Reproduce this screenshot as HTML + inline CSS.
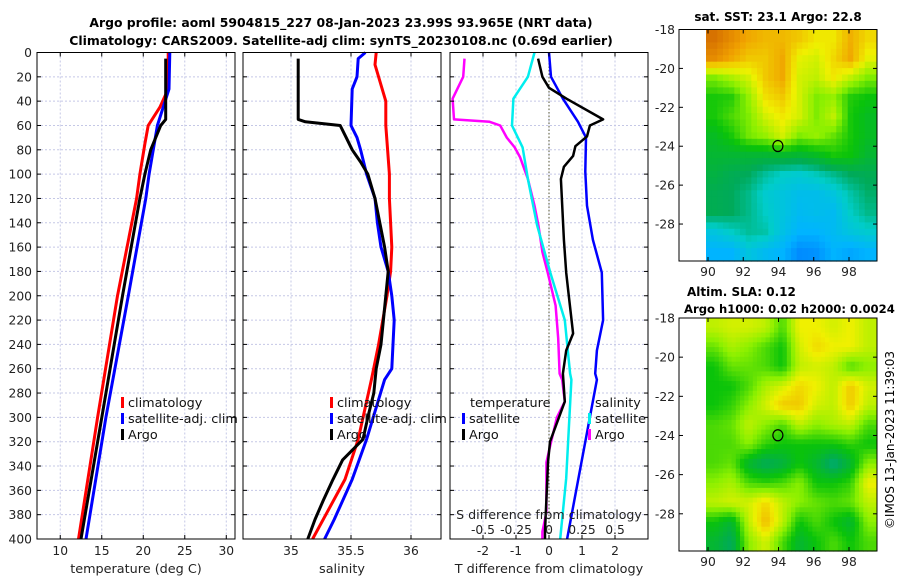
<!DOCTYPE html>
<html><head><meta charset="utf-8">
<style>
html,body{margin:0;padding:0;background:#fff;}
svg{display:block;font-family:"DejaVu Sans","Liberation Sans",sans-serif;}
</style></head>
<body>
<svg id="fig" width="900" height="580" viewBox="0 0 900 580">
<text x="341" y="27" text-anchor="middle" font-size="12.4" font-weight="bold">Argo profile: aoml 5904815_227 08-Jan-2023 23.99S 93.965E (NRT data)</text>
<text x="341" y="45" text-anchor="middle" font-size="12.4" font-weight="bold">Climatology: CARS2009. Satellite-adj clim: synTS_20230108.nc (0.69d earlier)</text>
<text x="778" y="21" text-anchor="middle" font-size="12" font-weight="bold">sat. SST: 23.1 Argo: 22.8</text>
<text x="687" y="296" font-size="12" font-weight="bold">Altim. SLA: 0.12</text>
<text x="684" y="313" font-size="11.6" font-weight="bold">Argo h1000: 0.02 h2000: 0.0024</text>
<text transform="translate(894,440) rotate(-90)" text-anchor="middle" font-size="12">©IMOS 13-Jan-2023 11:39:03</text>
<g id="layer"></g>
</svg>
<script>
// ---------- data ----------
const depthTicks=[0,20,40,60,80,100,120,140,160,180,200,220,240,260,280,300,320,340,360,380,400];
const tempTicks=[10,15,20,25,30];
const salTicks=[35,35.5,36];
const salTickLabels=["35","35.5","36"];
const tdiffTicks=[-2,-1,0,1,2];
const sdiffTicks=[-0.5,-0.25,0,0.25,0.5];
const sdiffTickLabels=["-0.5","-0.25","0","0.25","0.5"];

const climTempDepth=[0,30,45,60,75,100,120,200,300,400];
const climTempVal=[23.0,23.0,22.0,20.6,20.2,19.6,19.2,16.9,14.5,12.2];
const satTempDepth=[0,30,45,60,100,120,200,300,400];
const satTempVal=[23.2,23.1,22.4,21.7,20.7,20.3,18.2,15.5,13.1];
const argoTempDepth=[5,55,60,80,100,120,200,300,400];
const argoTempVal=[22.7,22.7,22.1,20.9,20.2,19.6,17.5,15.0,12.5];

const climSalDepth=[0,10,40,60,100,120,160,180,200,240,269,318,351,400];
const climSalVal=[35.71,35.7,35.79,35.79,35.82,35.82,35.84,35.83,35.8,35.73,35.67,35.56,35.45,35.18];
const satSalDepth=[0,5,20,30,60,70,80,100,120,140,160,180,200,220,260,269,318,351,384,400];
const satSalVal=[35.62,35.56,35.55,35.51,35.5,35.55,35.58,35.63,35.7,35.72,35.75,35.81,35.84,35.86,35.84,35.78,35.63,35.51,35.36,35.28];
const argoSalDepth=[5,55,57,60,70,80,90,100,120,140,160,180,200,220,240,260,280,300,318,335,351,368,384,400];
const argoSalVal=[35.06,35.06,35.12,35.41,35.46,35.51,35.58,35.64,35.7,35.74,35.78,35.81,35.79,35.77,35.75,35.71,35.69,35.64,35.6,35.43,35.35,35.27,35.2,35.14];

const argoTdiffDepth=[5,20,29,38,55,60,69,77,85,94,104,154,181,200,231,245,264,287,320,337,394,400];
const argoTdiffVal=[-0.33,-0.2,0,0.53,1.64,1.24,1.15,0.8,0.73,0.45,0.36,0.45,0.52,0.6,0.73,0.52,0.42,0.48,0.03,-0.03,-0.12,-0.12];
const satTdiffDepth=[0,20,38,57,70,98,126,154,181,220,245,264,269,400];
const satTdiffVal=[0,0.06,0.42,0.88,1.12,1.1,1.15,1.33,1.6,1.64,1.45,1.4,1.45,0.55];
const argoSdiffDepth=[5,20,38,55,57,60,70,78,86,104,126,142,164,181,208,235,264,269,287,300,323,337,378,394,400];
const argoSdiffVal=[-0.64,-0.65,-0.73,-0.72,-0.45,-0.37,-0.32,-0.26,-0.22,-0.16,-0.11,-0.08,-0.05,-0.01,0.05,0.07,0.08,0.1,0.12,0.06,0.01,-0.02,-0.02,-0.05,-0.05];
const satSdiffDepth=[0,20,38,60,78,104,142,181,220,264,269,350,400];
const satSdiffVal=[-0.11,-0.16,-0.27,-0.28,-0.2,-0.16,-0.09,0.01,0.12,0.16,0.17,0.13,0.085];

const mapLonTicks=[90,92,94,96,98];
const mapLatTicks=[-18,-20,-22,-24,-26,-28];
const sstGrid=[
[0.92,0.88,0.84,0.82,0.82,0.8,0.76,0.76,0.83,0.78],
[0.88,0.84,0.8,0.8,0.84,0.74,0.72,0.78,0.84,0.74],
[0.64,0.68,0.72,0.8,0.84,0.72,0.7,0.76,0.7,0.64],
[0.56,0.57,0.66,0.77,0.8,0.72,0.64,0.66,0.57,0.55],
[0.56,0.6,0.64,0.72,0.76,0.72,0.64,0.7,0.56,0.52],
[0.52,0.56,0.63,0.66,0.72,0.64,0.66,0.62,0.56,0.52],
[0.5,0.5,0.5,0.5,0.51,0.5,0.52,0.56,0.55,0.5],
[0.48,0.46,0.45,0.41,0.38,0.37,0.39,0.42,0.45,0.46],
[0.46,0.45,0.42,0.37,0.35,0.33,0.33,0.35,0.4,0.44],
[0.46,0.45,0.42,0.38,0.35,0.32,0.33,0.32,0.38,0.42],
[0.35,0.38,0.41,0.4,0.34,0.3,0.3,0.32,0.35,0.37],
[0.3,0.3,0.35,0.32,0.3,0.24,0.25,0.3,0.28,0.3]];
const slaGrid=[
[0.7,0.72,0.72,0.7,0.6,0.75,0.75,0.72,0.75,0.7],
[0.62,0.68,0.65,0.6,0.55,0.72,0.78,0.75,0.75,0.7],
[0.55,0.62,0.62,0.6,0.55,0.7,0.72,0.7,0.6,0.65],
[0.55,0.55,0.6,0.68,0.72,0.78,0.75,0.7,0.8,0.72],
[0.55,0.58,0.65,0.72,0.8,0.8,0.72,0.7,0.8,0.7],
[0.6,0.62,0.7,0.65,0.6,0.7,0.65,0.68,0.7,0.6],
[0.6,0.6,0.65,0.58,0.55,0.55,0.55,0.55,0.58,0.55],
[0.6,0.62,0.5,0.45,0.48,0.55,0.5,0.42,0.5,0.65],
[0.65,0.68,0.6,0.58,0.6,0.65,0.55,0.55,0.58,0.75],
[0.7,0.72,0.72,0.78,0.7,0.65,0.62,0.6,0.62,0.7],
[0.55,0.5,0.7,0.82,0.7,0.55,0.6,0.55,0.5,0.65],
[0.5,0.45,0.65,0.72,0.6,0.5,0.55,0.6,0.55,0.6]];
const argoLon=93.965, argoLat=-23.99;

// ---------- helpers ----------
const NS="http://www.w3.org/2000/svg";
const L=document.getElementById('layer');
function mk(tag,attrs,parent){const e=document.createElementNS(NS,tag);for(const k in attrs)e.setAttribute(k,attrs[k]);(parent||L).appendChild(e);return e;}
const Y0=52.5,Y1=539;
const yD=d=>Y0+d*(Y1-Y0)/400;
function lin(d0,d1,r0,r1){return v=>r0+(v-d0)*(r1-r0)/(d1-d0);}

const panels=[
 {x0:37,x1:235,f:lin(7.2,31.05,37,235),ticks:tempTicks,labels:tempTicks.map(String),title:"temperature (deg C)",name:"temperature-panel"},
 {x0:243,x1:441,f:lin(34.6,36.25,243,441),ticks:salTicks,labels:salTickLabels,title:"salinity",name:"salinity-panel"},
 {x0:450,x1:648,f:lin(-3,3,450,648),ticks:tdiffTicks,labels:tdiffTicks.map(String),title:"T difference from climatology",name:"difference-panel"}
];
panels.forEach((p,i)=>{
  const g=mk('g',{});
  
  
  depthTicks.forEach(d=>{ if(d>0&&d<400){const l=mk('line',{x1:p.x0,x2:p.x1,y1:yD(d),y2:yD(d),stroke:'#c5c8e6','stroke-width':1,'stroke-dasharray':'2,2'},g);
    }});
  p.ticks.forEach(t=>{const x=p.f(t);const l=mk('line',{x1:x,x2:x,y1:Y0,y2:Y1,stroke:'#c5c8e6','stroke-width':1,'stroke-dasharray':'2,2'},g);
    });
  p.g=g;
});
{const x=panels[2].f(0);const l=mk('line',{x1:x,x2:x,y1:Y0,y2:Y1,stroke:'#555533','stroke-width':1,'stroke-dasharray':'1.5,2'});
 }

function series(p,depths,vals,fx,color,w,name){
  const pts=depths.map((d,i)=>fx(vals[i]).toFixed(1)+','+yD(d).toFixed(1)).join(' ');
  const e=mk('polyline',{points:pts,fill:'none',stroke:color,'stroke-width':w,'stroke-linejoin':'round'});
  
  
}
const fT=panels[0].f, fS=panels[1].f, fTd=panels[2].f, fSd=lin(-0.75,0.75,450,648);
series(0,climTempDepth,climTempVal,fT,'#ff0000',3,'temp-climatology-line');
series(0,satTempDepth,satTempVal,fT,'#0000ff',3,'temp-satellite-line');
series(0,argoTempDepth,argoTempVal,fT,'#000000',3,'temp-argo-line');
series(1,climSalDepth,climSalVal,fS,'#ff0000',3,'sal-climatology-line');
series(1,satSalDepth,satSalVal,fS,'#0000ff',3,'sal-satellite-line');
series(1,argoSalDepth,argoSalVal,fS,'#000000',3,'sal-argo-line');
series(2,argoSdiffDepth,argoSdiffVal,fSd,'#ff00ff',2.5,'sdiff-argo-line');
series(2,satSdiffDepth,satSdiffVal,fSd,'#00eeee',2.5,'sdiff-satellite-line');
series(2,satTdiffDepth,satTdiffVal,fTd,'#0000ff',2.5,'tdiff-satellite-line');
series(2,argoTdiffDepth,argoTdiffVal,fTd,'#000000',2.5,'tdiff-argo-line');

panels.forEach((p,i)=>{
  const r=mk('rect',{x:p.x0,y:Y0,width:p.x1-p.x0,height:Y1-Y0,fill:'none',stroke:'#000','stroke-width':1});
  
  depthTicks.forEach(d=>{[[p.x0,p.x0+4],[p.x1-4,p.x1]].forEach(a=>{mk('line',{x1:a[0],x2:a[1],y1:yD(d),y2:yD(d),stroke:'#000'});});
    if(i===0){const t=mk('text',{x:32,y:yD(d)+4.5,'text-anchor':'end','font-size':12.3,fill:'#222'});t.textContent=d;
      }});
  p.ticks.forEach((tk,j)=>{const x=p.f(tk);mk('line',{x1:x,x2:x,y1:Y1-4,y2:Y1,stroke:'#000'});mk('line',{x1:x,x2:x,y1:Y0,y2:Y0+4,stroke:'#000'});
    const t=mk('text',{x:x,y:555,'text-anchor':'middle','font-size':12.3,fill:'#222'});t.textContent=p.labels[j];
    });
  const t=mk('text',{x:(p.x0+p.x1)/2,y:573,'text-anchor':'middle','font-size':12.8,fill:'#222'});t.textContent=p.title;
  
});
{const t=mk('text',{x:549,y:519,'text-anchor':'middle','font-size':12.6,fill:'#222'});t.textContent='S difference from climatology';
 }
sdiffTicks.forEach((v,j)=>{const t=mk('text',{x:fSd(v),y:534,'text-anchor':'middle','font-size':12.3,fill:'#222'});t.textContent=sdiffTickLabels[j];
 });

function legend(x,y,color,label,name){
  if(color){const b=mk('rect',{x:x,y:y-9,width:3,height:11,fill:color});}
  const t=mk('text',{x:x+7,y:y+1,'font-size':12.8,fill:'#111'});t.textContent=label;
  
}
legend(121,406,'#ff0000','climatology','legend-climatology');
legend(121,422,'#0000ff','satellite-adj. clim','legend-satellite');
legend(121,438,'#000','Argo','legend-argo');
legend(330,406,'#ff0000','climatology','legend-sal-climatology');
legend(330,422,'#0000ff','satellite-adj. clim','legend-sal-satellite');
legend(330,438,'#000','Argo','legend-sal-argo');
legend(463,406,null,'temperature','legend-temperature');
legend(462,422,'#0000ff','satellite','legend-t-satellite');
legend(462,438,'#000','Argo','legend-t-argo');
legend(588,406,null,'salinity','legend-salinity');
legend(588,422,'#00eeee','satellite','legend-s-satellite');
legend(588,438,'#ff00ff','Argo','legend-s-argo');

const stops=[[0,[0,0,160]],[0.15,[0,80,255]],[0.3,[0,180,255]],[0.38,[0,205,200]],[0.45,[0,170,90]],[0.55,[10,195,10]],[0.65,[140,240,0]],[0.75,[240,240,0]],[0.85,[240,160,0]],[0.95,[205,95,0]],[1,[180,60,0]]];
function cmap(v){for(let i=1;i<stops.length;i++){if(v<=stops[i][0]){const a=stops[i-1],b=stops[i],t=(v-a[0])/(b[0]-a[0]);
  return 'rgb('+a[1].map((c,k)=>Math.round(c+(b[1][k]-c)*t)).join(',')+')';}}return 'rgb(180,60,0)';}

function sample(grid,fr,fc){
  const R=grid.length,C=grid[0].length;
  const r=Math.min(Math.max(fr-0.5,0),R-1),c=Math.min(Math.max(fc-0.5,0),C-1);
  const r0=Math.floor(r),c0=Math.floor(c),r1=Math.min(r0+1,R-1),c1=Math.min(c0+1,C-1),tr=r-r0,tc=c-c0;
  return grid[r0][c0]*(1-tr)*(1-tc)+grid[r0][c1]*(1-tr)*tc+grid[r1][c0]*tr*(1-tc)+grid[r1][c1]*tr*tc;
}
function drawMap(top,bot,grid,name,sub){
  const bx0=679,bx1=877;
  const lon=lin(90,98,708,849);
  const lat=lin(-18,-28,top,top+(bot-top)*10/11.9);
  const dx0=706,dx1=876,dy0=top,dy1=lat(-29.9);
  const g=mk('g',{});
  const R=grid.length,C=grid[0].length,NR=R*sub,NC=C*sub,cw=(dx1-dx0)/NC,ch=(dy1-dy0)/NR;
  for(let r=0;r<NR;r++)for(let c=0;c<NC;c++){
    const v=sample(grid,(r+0.5)/sub,(c+0.5)/sub);
    const e=mk('rect',{x:(dx0+c*cw).toFixed(1),y:(dy0+r*ch).toFixed(1),width:(cw+0.6).toFixed(1),height:(ch+0.6).toFixed(1),fill:cmap(v)},g);
    
    
  }
  const fr=mk('rect',{x:bx0,y:top,width:bx1-bx0,height:bot-top,fill:'none',stroke:'#000'});
  
  mapLonTicks.forEach(v=>{const x=lon(v);mk('line',{x1:x,x2:x,y1:bot-4,y2:bot,stroke:'#000'});mk('line',{x1:x,x2:x,y1:top,y2:top+4,stroke:'#000'});
    const t=mk('text',{x:x,y:bot+15,'text-anchor':'middle','font-size':12.3,fill:'#222'});t.textContent=v;
    });
  mapLatTicks.forEach(v=>{const y=lat(v);mk('line',{x1:bx0,x2:bx0+4,y1:y,y2:y,stroke:'#000'});mk('line',{x1:bx1-4,x2:bx1,y1:y,y2:y,stroke:'#000'});
    const t=mk('text',{x:675,y:y+4.5,'text-anchor':'end','font-size':12.3,fill:'#222'});t.textContent=v;
    });
  const m=mk('ellipse',{cx:lon(argoLon),cy:lat(argoLat),rx:5,ry:5.5,fill:'none',stroke:'#000','stroke-width':1.2});
  
}
drawMap(29.5,261,sstGrid,'sst-map',3);
drawMap(318,551,slaGrid,'sla-map',4);
</script>
</body></html>
